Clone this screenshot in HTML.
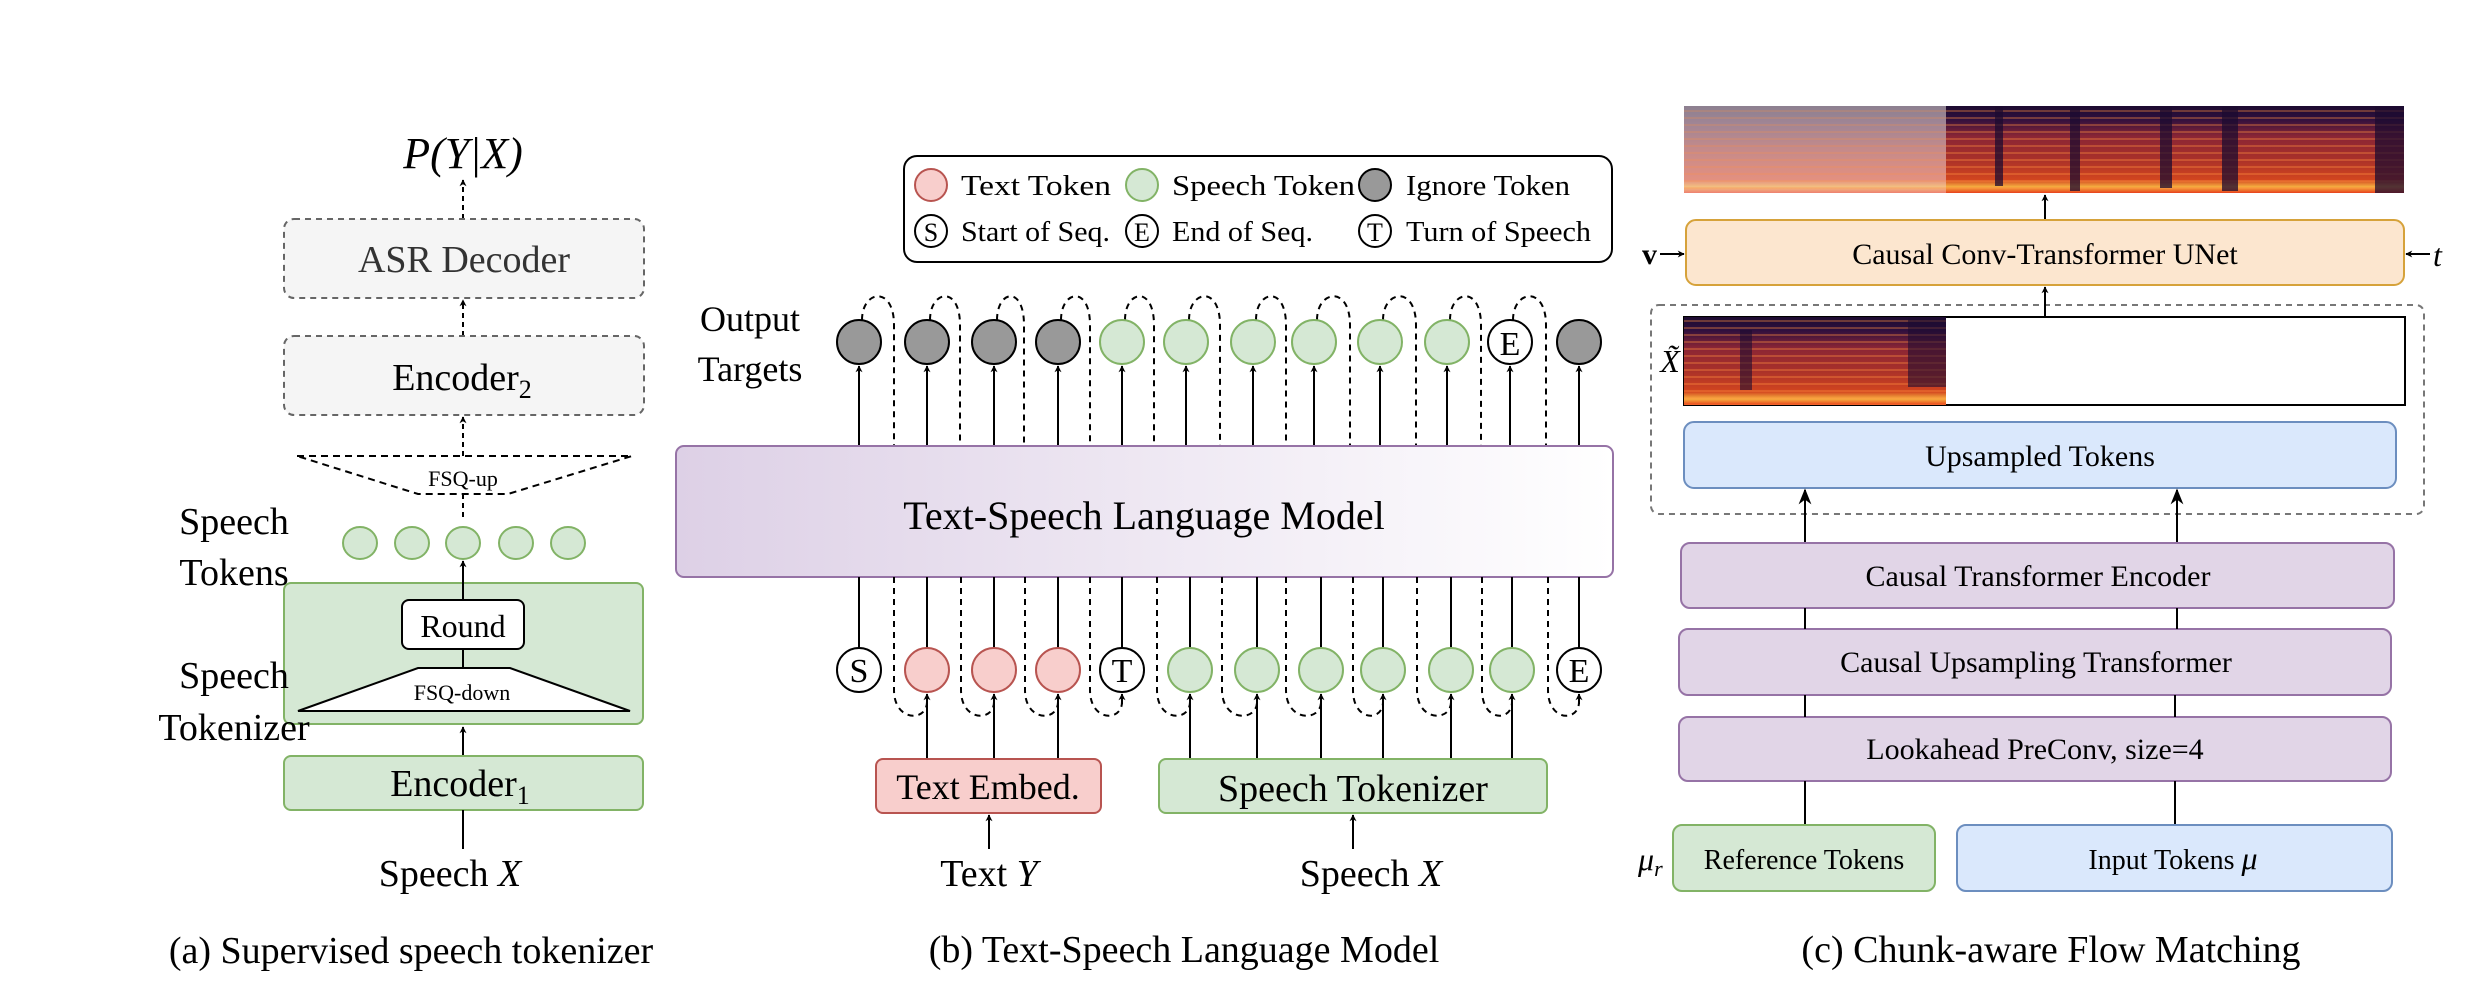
<!DOCTYPE html>
<html><head><meta charset="utf-8"><style>
html,body{margin:0;padding:0;background:#fff;}
svg{display:block;}
text{font-family:"Liberation Serif",serif;fill:#000;}
</style></head><body>
<svg width="2476" height="998" viewBox="0 0 2476 998" xmlns="http://www.w3.org/2000/svg">
<defs>
<marker id="ar" viewBox="0 0 10 10" refX="9" refY="5" markerWidth="7" markerHeight="7" orient="auto-start-reverse" markerUnits="userSpaceOnUse">
<path d="M0,0 L10,5 L0,10 L3,5 z" fill="#000"/></marker>
<marker id="ars" viewBox="0 0 10 10" refX="9" refY="5" markerWidth="16" markerHeight="16" orient="auto" markerUnits="userSpaceOnUse">
<path d="M0,1 L10,5 L0,9 L3,5 z" fill="#000"/></marker>
<linearGradient id="lm" x1="0" y1="0" x2="1" y2="0"><stop offset="0" stop-color="#ddd0e6"/><stop offset="1" stop-color="#ffffff"/></linearGradient>
<linearGradient id="spec" x1="0" y1="0" x2="0" y2="1">
<stop offset="0" stop-color="#1c0b30"/><stop offset="0.15" stop-color="#2e0f3e"/><stop offset="0.35" stop-color="#8a2535"/><stop offset="0.6" stop-color="#a8302a"/><stop offset="0.85" stop-color="#d2451f"/><stop offset="0.93" stop-color="#f5b040"/><stop offset="1" stop-color="#e8401c"/></linearGradient>
<linearGradient id="specf" x1="0" y1="0" x2="0" y2="1">
<stop offset="0" stop-color="#8c8090"/><stop offset="0.2" stop-color="#a08595"/><stop offset="0.5" stop-color="#c58a8a"/><stop offset="0.85" stop-color="#e39080"/><stop offset="0.93" stop-color="#f3c080"/><stop offset="1" stop-color="#ee8070"/></linearGradient>
<pattern id="lines" width="8" height="7" patternUnits="userSpaceOnUse"><rect width="8" height="2" y="5" fill="#ff9040" opacity="0.35"/></pattern>
</defs>

<!-- ===== Panel (a) ===== -->
<text x="463" y="168" font-size="44" font-style="italic" text-anchor="middle">P(Y|X)</text>
<line x1="463" y1="219" x2="463" y2="180" stroke="#000" stroke-width="2" stroke-dasharray="5,4" marker-end="url(#ar)"/>
<rect x="284" y="219" width="360" height="79" rx="10" fill="#f5f5f5" stroke="#666" stroke-width="2" stroke-dasharray="6,5"/>
<text x="464" y="272" font-size="38" text-anchor="middle" fill="#333" style="fill:#333">ASR Decoder</text>
<line x1="463" y1="336" x2="463" y2="300" stroke="#000" stroke-width="2" stroke-dasharray="5,4" marker-end="url(#ar)"/>
<rect x="284" y="336" width="360" height="79" rx="10" fill="#f5f5f5" stroke="#666" stroke-width="2" stroke-dasharray="6,5"/>
<text x="462" y="390" font-size="38" text-anchor="middle">Encoder<tspan font-size="26" dy="8">2</tspan></text>
<line x1="463" y1="456" x2="463" y2="417" stroke="#000" stroke-width="2" stroke-dasharray="5,4" marker-end="url(#ar)"/>
<polyline points="297,456 632,456 508,494 418,494 297,456" fill="none" stroke="#000" stroke-width="2" stroke-dasharray="7,5"/>
<rect x="421" y="467" width="84" height="22" fill="#fff"/>
<text x="463" y="486" font-size="22" text-anchor="middle">FSQ-up</text>
<line x1="463" y1="494" x2="463" y2="521" stroke="#000" stroke-width="2" stroke-dasharray="5,4"/>
<g fill="#d5e8d4" stroke="#82b366" stroke-width="2">
<ellipse cx="360" cy="543" rx="17" ry="16"/><ellipse cx="412" cy="543" rx="17" ry="16"/><ellipse cx="463" cy="543" rx="17" ry="16"/><ellipse cx="516" cy="543" rx="17" ry="16"/><ellipse cx="568" cy="543" rx="17" ry="16"/></g>
<text x="234" y="534" font-size="38" text-anchor="middle">Speech</text>
<text x="234" y="585" font-size="38" text-anchor="middle">Tokens</text>
<rect x="284" y="583" width="359" height="141" rx="7" fill="#d5e8d4" stroke="#82b366" stroke-width="2"/>
<line x1="463" y1="601" x2="463" y2="561" stroke="#000" stroke-width="2" marker-end="url(#ar)"/>
<rect x="402" y="600" width="122" height="49" rx="7" fill="#fff" stroke="#000" stroke-width="2"/>
<text x="463" y="637" font-size="32" text-anchor="middle">Round</text>
<line x1="463" y1="649" x2="463" y2="668" stroke="#000" stroke-width="2"/>
<polygon points="298,711 630,711 510,668 418,668" fill="#fff" stroke="#000" stroke-width="2"/>
<text x="462" y="700" font-size="22" text-anchor="middle">FSQ-down</text>
<text x="234" y="688" font-size="38" text-anchor="middle">Speech</text>
<text x="234" y="740" font-size="38" text-anchor="middle">Tokenizer</text>
<line x1="463" y1="756" x2="463" y2="727" stroke="#000" stroke-width="2" marker-end="url(#ar)"/>
<rect x="284" y="756" width="359" height="54" rx="7" fill="#d5e8d4" stroke="#82b366" stroke-width="2"/>
<text x="460" y="796" font-size="38" text-anchor="middle">Encoder<tspan font-size="26" dy="8">1</tspan></text>
<line x1="463" y1="810" x2="463" y2="849" stroke="#000" stroke-width="2"/>
<text x="450" y="886" font-size="38" text-anchor="middle">Speech <tspan font-style="italic">X</tspan></text>
<text x="411" y="963" font-size="38" text-anchor="middle">(a) Supervised speech tokenizer</text>

<!-- ===== Panel (b) ===== -->
<rect x="904" y="156" width="708" height="106" rx="13" fill="#fff" stroke="#000" stroke-width="2"/>
<g stroke-width="2">
<circle cx="931" cy="185" r="16" fill="#f8cecc" stroke="#b85450"/>
<circle cx="1142" cy="185" r="16" fill="#d5e8d4" stroke="#82b366"/>
<circle cx="1375" cy="185" r="16" fill="#999" stroke="#000"/>
<circle cx="931" cy="231" r="16" fill="#fff" stroke="#000"/>
<circle cx="1142" cy="231" r="16" fill="#fff" stroke="#000"/>
<circle cx="1375" cy="231" r="16" fill="#fff" stroke="#000"/>
</g>
<g font-size="28">
<text x="931" y="241" text-anchor="middle" font-size="26">S</text>
<text x="1142" y="241" text-anchor="middle" font-size="26">E</text>
<text x="1375" y="241" text-anchor="middle" font-size="26">T</text>
<text x="961" y="195" textLength="150" lengthAdjust="spacingAndGlyphs">Text Token</text>
<text x="1172" y="195" textLength="183" lengthAdjust="spacingAndGlyphs">Speech Token</text>
<text x="1406" y="195" textLength="164" lengthAdjust="spacingAndGlyphs">Ignore Token</text>
<text x="961" y="241" textLength="149" lengthAdjust="spacingAndGlyphs">Start of Seq.</text>
<text x="1172" y="241" textLength="141" lengthAdjust="spacingAndGlyphs">End of Seq.</text>
<text x="1406" y="241" textLength="185" lengthAdjust="spacingAndGlyphs">Turn of Speech</text>
</g>
<text x="750" y="331" font-size="36" text-anchor="middle">Output</text>
<text x="750" y="381" font-size="36" text-anchor="middle">Targets</text>

<!-- top dashed loops -->
<g fill="none" stroke="#000" stroke-width="2" stroke-dasharray="6,5">
<path d="M862,320 C862,290 894,285 894,325 L894,446"/>
<path d="M930,320 C930,290 960,285 960,325 L960,446"/>
<path d="M997,320 C997,290 1024,285 1024,325 L1024,446"/>
<path d="M1061,320 C1061,290 1090,285 1090,325 L1090,446"/>
<path d="M1125,320 C1125,290 1154,285 1154,325 L1154,446"/>
<path d="M1189,320 C1189,290 1220,285 1220,325 L1220,446"/>
<path d="M1256,320 C1256,290 1286,285 1286,325 L1286,446"/>
<path d="M1317,320 C1317,290 1350,285 1350,325 L1350,446"/>
<path d="M1383,320 C1383,290 1416,285 1416,325 L1416,446"/>
<path d="M1450,320 C1450,290 1481,285 1481,325 L1481,446"/>
<path d="M1513,320 C1513,290 1546,285 1546,325 L1546,446"/>
</g>
<!-- output arrows -->
<g stroke="#000" stroke-width="2" marker-end="url(#ar)">
<line x1="859" y1="446" x2="859" y2="366"/><line x1="927" y1="446" x2="927" y2="366"/><line x1="994" y1="446" x2="994" y2="366"/><line x1="1058" y1="446" x2="1058" y2="366"/><line x1="1122" y1="446" x2="1122" y2="366"/><line x1="1186" y1="446" x2="1186" y2="366"/><line x1="1253" y1="446" x2="1253" y2="366"/><line x1="1314" y1="446" x2="1314" y2="366"/><line x1="1380" y1="446" x2="1380" y2="366"/><line x1="1447" y1="446" x2="1447" y2="366"/><line x1="1510" y1="446" x2="1510" y2="366"/><line x1="1579" y1="446" x2="1579" y2="366"/>
</g>
<g stroke="#000" stroke-width="2">
<circle cx="859" cy="342" r="22" fill="#999"/><circle cx="927" cy="342" r="22" fill="#999"/><circle cx="994" cy="342" r="22" fill="#999"/><circle cx="1058" cy="342" r="22" fill="#999"/>
<circle cx="1579" cy="342" r="22" fill="#999"/><circle cx="1510" cy="342" r="22" fill="#fff"/>
</g>
<g fill="#d5e8d4" stroke="#82b366" stroke-width="2">
<circle cx="1122" cy="342" r="22"/><circle cx="1186" cy="342" r="22"/><circle cx="1253" cy="342" r="22"/><circle cx="1314" cy="342" r="22"/><circle cx="1380" cy="342" r="22"/><circle cx="1447" cy="342" r="22"/>
</g>
<text x="1510" y="355" font-size="34" text-anchor="middle">E</text>

<rect x="676" y="446" width="937" height="131" rx="8" fill="url(#lm)" stroke="#9673a6" stroke-width="2"/>
<text x="1144" y="529" font-size="40" text-anchor="middle">Text-Speech Language Model</text>

<!-- bottom dashed loops -->
<g fill="none" stroke="#000" stroke-width="2" stroke-dasharray="6,5">
<path d="M894,577 L894,690 C894,722 927,722 927,702"/>
<path d="M961,577 L961,690 C961,722 994,722 994,702"/>
<path d="M1025,577 L1025,690 C1025,722 1058,722 1058,702"/>
<path d="M1090,577 L1090,690 C1090,722 1122,722 1122,702"/>
<path d="M1157,577 L1157,690 C1157,722 1190,722 1190,702"/>
<path d="M1222,577 L1222,690 C1222,722 1257,722 1257,702"/>
<path d="M1286,577 L1286,690 C1286,722 1321,722 1321,702"/>
<path d="M1353,577 L1353,690 C1353,722 1383,722 1383,702"/>
<path d="M1417,577 L1417,690 C1417,722 1451,722 1451,702"/>
<path d="M1482,577 L1482,690 C1482,722 1512,722 1512,702"/>
<path d="M1548,577 L1548,690 C1548,722 1579,722 1579,702"/>
</g>
<g stroke="#000" stroke-width="2" marker-end="url(#ar)">
<line x1="1122" y1="704" x2="1122" y2="694"/><line x1="1579" y1="704" x2="1579" y2="694"/>
</g>
<!-- input vertical lines to LM -->
<g stroke="#000" stroke-width="2">
<line x1="859" y1="577" x2="859" y2="648"/><line x1="927" y1="577" x2="927" y2="648"/><line x1="994" y1="577" x2="994" y2="648"/><line x1="1058" y1="577" x2="1058" y2="648"/><line x1="1122" y1="577" x2="1122" y2="648"/><line x1="1190" y1="577" x2="1190" y2="648"/><line x1="1257" y1="577" x2="1257" y2="648"/><line x1="1321" y1="577" x2="1321" y2="648"/><line x1="1383" y1="577" x2="1383" y2="648"/><line x1="1451" y1="577" x2="1451" y2="648"/><line x1="1512" y1="577" x2="1512" y2="648"/><line x1="1579" y1="577" x2="1579" y2="648"/>
</g>
<g stroke="#000" stroke-width="2" marker-end="url(#ar)">
<line x1="927" y1="759" x2="927" y2="694"/><line x1="994" y1="759" x2="994" y2="694"/><line x1="1058" y1="759" x2="1058" y2="694"/>
<line x1="1190" y1="759" x2="1190" y2="694"/><line x1="1257" y1="759" x2="1257" y2="694"/><line x1="1321" y1="759" x2="1321" y2="694"/><line x1="1383" y1="759" x2="1383" y2="694"/><line x1="1451" y1="759" x2="1451" y2="694"/><line x1="1512" y1="759" x2="1512" y2="694"/>
</g>
<g stroke-width="2">
<circle cx="859" cy="670" r="22" fill="#fff" stroke="#000"/>
<circle cx="927" cy="670" r="22" fill="#f8cecc" stroke="#b85450"/><circle cx="994" cy="670" r="22" fill="#f8cecc" stroke="#b85450"/><circle cx="1058" cy="670" r="22" fill="#f8cecc" stroke="#b85450"/>
<circle cx="1122" cy="670" r="22" fill="#fff" stroke="#000"/>
<circle cx="1190" cy="670" r="22" fill="#d5e8d4" stroke="#82b366"/><circle cx="1257" cy="670" r="22" fill="#d5e8d4" stroke="#82b366"/><circle cx="1321" cy="670" r="22" fill="#d5e8d4" stroke="#82b366"/><circle cx="1383" cy="670" r="22" fill="#d5e8d4" stroke="#82b366"/><circle cx="1451" cy="670" r="22" fill="#d5e8d4" stroke="#82b366"/><circle cx="1512" cy="670" r="22" fill="#d5e8d4" stroke="#82b366"/>
<circle cx="1579" cy="670" r="22" fill="#fff" stroke="#000"/>
</g>
<text x="859" y="682" font-size="34" text-anchor="middle">S</text>
<text x="1122" y="682" font-size="34" text-anchor="middle">T</text>
<text x="1579" y="682" font-size="34" text-anchor="middle">E</text>

<rect x="876" y="759" width="225" height="54" rx="7" fill="#f8cecc" stroke="#b85450" stroke-width="2"/>
<text x="988" y="799" font-size="36" text-anchor="middle">Text Embed.</text>
<rect x="1159" y="759" width="388" height="54" rx="7" fill="#d5e8d4" stroke="#82b366" stroke-width="2"/>
<text x="1353" y="801" font-size="38" text-anchor="middle">Speech Tokenizer</text>
<line x1="989" y1="849" x2="989" y2="815" stroke="#000" stroke-width="2" marker-end="url(#ar)"/>
<line x1="1353" y1="849" x2="1353" y2="815" stroke="#000" stroke-width="2" marker-end="url(#ar)"/>
<text x="989" y="886" font-size="38" text-anchor="middle">Text <tspan font-style="italic">Y</tspan></text>
<text x="1371" y="886" font-size="38" text-anchor="middle">Speech <tspan font-style="italic">X</tspan></text>
<text x="1184" y="962" font-size="38" text-anchor="middle">(b) Text-Speech Language Model</text>

<!-- ===== Panel (c) ===== -->
<!-- top spectrogram -->
<rect x="1684" y="106" width="262" height="87" fill="url(#specf)"/>
<rect x="1684" y="106" width="262" height="87" fill="url(#lines)" opacity="0.6"/>
<rect x="1946" y="106" width="458" height="87" fill="url(#spec)"/>
<rect x="1946" y="106" width="458" height="87" fill="url(#lines)"/>
<g fill="#1c0b30" opacity="0.75">
<rect x="1995" y="106" width="8" height="80"/><rect x="2070" y="106" width="10" height="85"/><rect x="2160" y="106" width="12" height="82"/><rect x="2222" y="106" width="16" height="85"/><rect x="2375" y="106" width="29" height="87"/>
</g>
<line x1="2045" y1="220" x2="2045" y2="195" stroke="#000" stroke-width="2" marker-end="url(#ar)"/>
<rect x="1686" y="220" width="718" height="65" rx="10" fill="#fce6cf" stroke="#d6a23a" stroke-width="2"/>
<text x="2045" y="264" font-size="30" text-anchor="middle">Causal Conv-Transformer UNet</text>
<text x="1642" y="264" font-size="30" font-weight="bold">v</text>
<line x1="1660" y1="254" x2="1684" y2="254" stroke="#000" stroke-width="2" marker-end="url(#ar)"/>
<line x1="2430" y1="254" x2="2406" y2="254" stroke="#000" stroke-width="2" marker-end="url(#ar)"/>
<text x="2433" y="266" font-size="32" font-style="italic">t</text>
<rect x="1651" y="305" width="773" height="209" rx="8" fill="none" stroke="#777" stroke-width="2" stroke-dasharray="6,5"/>
<line x1="2045" y1="317" x2="2045" y2="287" stroke="#000" stroke-width="2" marker-end="url(#ar)"/>
<rect x="1684" y="317" width="721" height="88" fill="#fff" stroke="#000" stroke-width="2"/>
<rect x="1684" y="317" width="262" height="88" fill="url(#spec)"/>
<rect x="1684" y="317" width="262" height="88" fill="url(#lines)"/>
<g fill="#1c0b30" opacity="0.6"><rect x="1740" y="330" width="12" height="60"/><rect x="1908" y="317" width="38" height="70"/></g>
<text x="1670" y="372" font-size="32" font-style="italic" text-anchor="middle">X̃</text>
<rect x="1684" y="422" width="712" height="66" rx="10" fill="#dae8fc" stroke="#6c8ebf" stroke-width="2"/>
<text x="2040" y="466" font-size="30" text-anchor="middle">Upsampled Tokens</text>
<line x1="1805" y1="543" x2="1805" y2="490" stroke="#000" stroke-width="2" marker-end="url(#ars)"/>
<line x1="2177" y1="543" x2="2177" y2="490" stroke="#000" stroke-width="2" marker-end="url(#ars)"/>
<g fill="#e1d5e7" stroke="#9673a6" stroke-width="2">
<rect x="1681" y="543" width="713" height="65" rx="9"/>
<rect x="1679" y="629" width="712" height="66" rx="9"/>
<rect x="1679" y="717" width="712" height="64" rx="9"/>
</g>
<g stroke="#000" stroke-width="2">
<line x1="1805" y1="608" x2="1805" y2="629"/><line x1="2177" y1="608" x2="2177" y2="629"/>
<line x1="1805" y1="695" x2="1805" y2="717"/><line x1="2175" y1="695" x2="2175" y2="717"/>
<line x1="1805" y1="781" x2="1805" y2="825"/><line x1="2175" y1="781" x2="2175" y2="825"/>
</g>
<text x="2038" y="586" font-size="30" text-anchor="middle">Causal Transformer Encoder</text>
<text x="2036" y="672" font-size="30" text-anchor="middle">Causal Upsampling Transformer</text>
<text x="2035" y="759" font-size="30" text-anchor="middle">Lookahead PreConv, size=4</text>
<rect x="1673" y="825" width="262" height="66" rx="9" fill="#d5e8d4" stroke="#82b366" stroke-width="2"/>
<text x="1804" y="869" font-size="28" text-anchor="middle">Reference Tokens</text>
<rect x="1957" y="825" width="435" height="66" rx="9" fill="#dae8fc" stroke="#6c8ebf" stroke-width="2"/>
<text x="2173" y="869" font-size="28" text-anchor="middle">Input Tokens  <tspan font-style="italic" font-size="32">μ</tspan></text>
<text x="1638" y="870" font-size="32" font-style="italic">μ<tspan font-size="22" dy="6">r</tspan></text>
<text x="2051" y="962" font-size="38" text-anchor="middle">(c) Chunk-aware Flow Matching</text>
</svg>
</body></html>
